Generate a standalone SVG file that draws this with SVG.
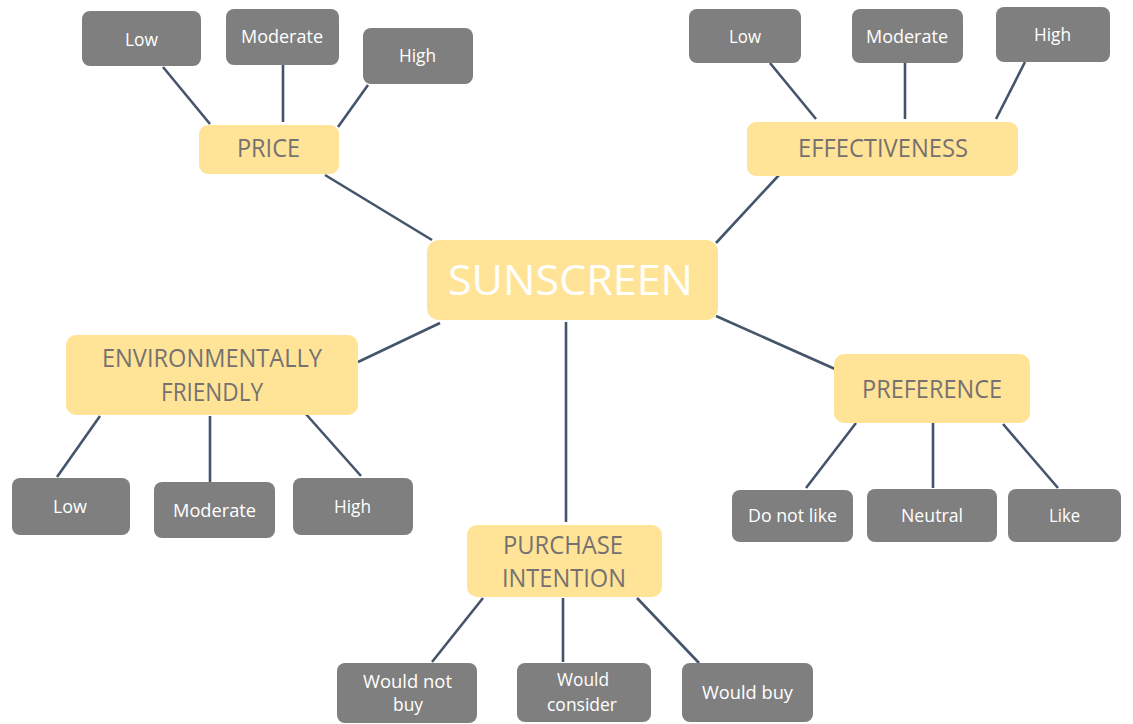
<svg xmlns="http://www.w3.org/2000/svg" width="1133" height="724" viewBox="0 0 1133 724">
<style>
.y{fill:#FFE497}
.g{fill:#7F7F7F}
.yt{font-family:"Open Sans","Liberation Sans",sans-serif;font-size:25px;fill:#767171;text-anchor:middle}
.gt{font-family:"Open Sans","Liberation Sans",sans-serif;font-size:18px;fill:#FFFFFF;text-anchor:middle}
.ln{stroke:#44546A;stroke-width:2.6;fill:none;stroke-linecap:butt}
</style>
<rect width="1133" height="724" fill="#FFFFFF"/>
<g id="connectors" class="ln">
<line x1="432" y1="240" x2="325" y2="175"/>
<line x1="716" y1="243" x2="779" y2="175"/>
<line x1="440" y1="323" x2="358" y2="362"/>
<line x1="716" y1="316" x2="835" y2="369"/>
<line x1="566" y1="322" x2="566" y2="522"/>
<line x1="163" y1="67" x2="210" y2="124"/>
<line x1="283" y1="65" x2="283" y2="122"/>
<line x1="368" y1="85" x2="338" y2="127"/>
<line x1="770" y1="63" x2="816" y2="119"/>
<line x1="905" y1="63" x2="905" y2="119"/>
<line x1="1025" y1="62" x2="996" y2="119"/>
<line x1="100" y1="416" x2="57" y2="477"/>
<line x1="210" y1="416" x2="210" y2="482"/>
<line x1="305" y1="413" x2="361" y2="476"/>
<line x1="856" y1="423" x2="806" y2="488"/>
<line x1="933" y1="423" x2="933" y2="488"/>
<line x1="1003" y1="424" x2="1058" y2="488"/>
<line x1="483" y1="598" x2="432" y2="662"/>
<line x1="563" y1="598" x2="563" y2="662"/>
<line x1="637" y1="598" x2="699" y2="663"/>
</g>
<g id="sunscreen">
<rect class="y" x="427" y="240" width="291" height="80" rx="12"/>
<text x="570.5" y="295" font-family="Open Sans, Liberation Sans, sans-serif" font-size="42" fill="#FFFFFF" text-anchor="middle" textLength="245" lengthAdjust="spacingAndGlyphs">SUNSCREEN</text>
</g>
<g id="price">
<rect class="y" x="199" y="125" width="140" height="49" rx="9"/>
<text class="yt" x="268.5" y="157" textLength="63" lengthAdjust="spacingAndGlyphs">PRICE</text>
</g>
<g id="price-low"><rect class="g" x="82" y="11" width="119" height="55" rx="8"/><text class="gt" x="141.5" y="46" textLength="33" lengthAdjust="spacingAndGlyphs">Low</text></g>
<g id="price-moderate"><rect class="g" x="226" y="9" width="113" height="56" rx="8"/><text class="gt" x="282" y="43" textLength="82" lengthAdjust="spacingAndGlyphs">Moderate</text></g>
<g id="price-high"><rect class="g" x="363" y="28" width="110" height="56" rx="8"/><text class="gt" x="417.5" y="62" textLength="37" lengthAdjust="spacingAndGlyphs">High</text></g>
<g id="effectiveness">
<rect class="y" x="747" y="122" width="271" height="54" rx="9"/>
<text class="yt" x="883" y="157" textLength="170" lengthAdjust="spacingAndGlyphs">EFFECTIVENESS</text>
</g>
<g id="eff-low"><rect class="g" x="689" y="9" width="112" height="54" rx="8"/><text class="gt" x="745" y="43" textLength="32" lengthAdjust="spacingAndGlyphs">Low</text></g>
<g id="eff-moderate"><rect class="g" x="852" y="9" width="111" height="54" rx="8"/><text class="gt" x="907" y="43" textLength="82" lengthAdjust="spacingAndGlyphs">Moderate</text></g>
<g id="eff-high"><rect class="g" x="996" y="7" width="114" height="55" rx="8"/><text class="gt" x="1052.5" y="41" textLength="37" lengthAdjust="spacingAndGlyphs">High</text></g>
<g id="environmentally-friendly">
<rect class="y" x="66" y="335" width="292" height="80" rx="10"/>
<text class="yt" x="212" y="367" textLength="220" lengthAdjust="spacingAndGlyphs">ENVIRONMENTALLY</text>
<text class="yt" x="212" y="401" textLength="102" lengthAdjust="spacingAndGlyphs">FRIENDLY</text>
</g>
<g id="env-low"><rect class="g" x="12" y="478" width="118" height="57" rx="8"/><text class="gt" x="70" y="513" textLength="34" lengthAdjust="spacingAndGlyphs">Low</text></g>
<g id="env-moderate"><rect class="g" x="154" y="482" width="121" height="56" rx="8"/><text class="gt" x="214.5" y="517" textLength="83" lengthAdjust="spacingAndGlyphs">Moderate</text></g>
<g id="env-high"><rect class="g" x="293" y="478" width="120" height="57" rx="8"/><text class="gt" x="352.5" y="513" textLength="37" lengthAdjust="spacingAndGlyphs">High</text></g>
<g id="preference">
<rect class="y" x="834" y="354" width="196" height="69" rx="10"/>
<text class="yt" x="932" y="398" textLength="140" lengthAdjust="spacingAndGlyphs">PREFERENCE</text>
</g>
<g id="pref-dislike"><rect class="g" x="732" y="490" width="121" height="52" rx="8"/><text class="gt" x="792.5" y="522" textLength="89" lengthAdjust="spacingAndGlyphs">Do not like</text></g>
<g id="pref-neutral"><rect class="g" x="867" y="489" width="130" height="53" rx="8"/><text class="gt" x="932" y="522" textLength="62" lengthAdjust="spacingAndGlyphs">Neutral</text></g>
<g id="pref-like"><rect class="g" x="1008" y="489" width="113" height="53" rx="8"/><text class="gt" x="1064.5" y="522" textLength="31" lengthAdjust="spacingAndGlyphs">Like</text></g>
<g id="purchase-intention">
<rect class="y" x="467" y="525" width="195" height="72" rx="10"/>
<text class="yt" x="563" y="554" textLength="120" lengthAdjust="spacingAndGlyphs">PURCHASE</text>
<text class="yt" x="564" y="587" textLength="124" lengthAdjust="spacingAndGlyphs">INTENTION</text>
</g>
<g id="pi-not"><rect class="g" x="337" y="663" width="140" height="60" rx="8"/><text class="gt" x="407.5" y="688" textLength="89" lengthAdjust="spacingAndGlyphs">Would not</text><text class="gt" x="408" y="711" textLength="30" lengthAdjust="spacingAndGlyphs">buy</text></g>
<g id="pi-consider"><rect class="g" x="517" y="663" width="134" height="59" rx="8"/><text class="gt" x="583" y="686" textLength="52" lengthAdjust="spacingAndGlyphs">Would</text><text class="gt" x="582" y="711" textLength="70" lengthAdjust="spacingAndGlyphs">consider</text></g>
<g id="pi-buy"><rect class="g" x="682" y="663" width="131" height="59" rx="8"/><text class="gt" x="747.5" y="699" textLength="91" lengthAdjust="spacingAndGlyphs">Would buy</text></g>
</svg>
